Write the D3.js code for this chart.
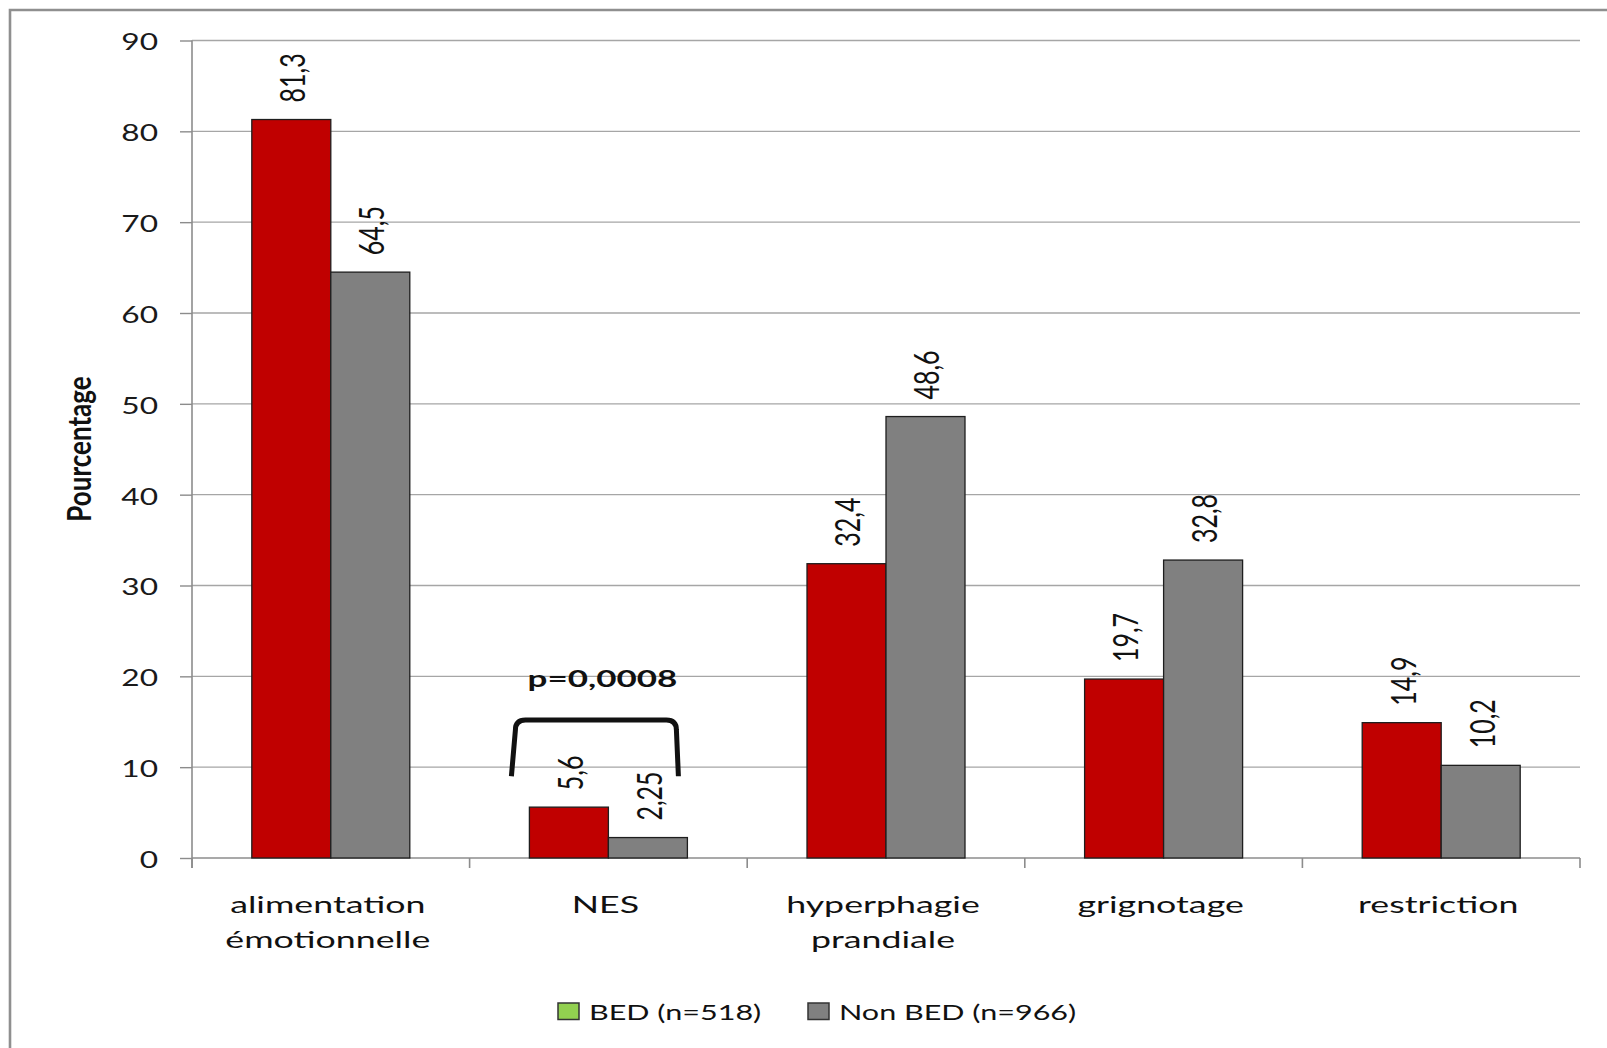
<!DOCTYPE html>
<html>
<head>
<meta charset="utf-8">
<script src="https://cdn.jsdelivr.net/npm/d3@7"></script>
<style>
  body { margin: 0; background: #fff; }
  svg { display: block; }
  text { font-family: Lato, "Open Sans", sans-serif; fill: #111; }
</style>
</head>
<body>
<svg id="chart" width="1607" height="1048"></svg>
<script>
// ---- data ----
const categories = ["alimentation émotionnelle", "NES", "hyperphagie prandiale", "grignotage", "restriction"];
const seriesNames = ["BED (n=518)", "Non BED (n=966)"];
const bedValues = [81.3, 5.6, 32.4, 19.7, 14.9];
const nonBedValues = [64.5, 2.25, 48.6, 32.8, 10.2];
const yTicks = [0, 10, 20, 30, 40, 50, 60, 70, 80, 90];
const yLabel = "Pourcentage";
const pValueText = "p=0,0008";
const pValueCategory = "NES";

// ---- styling ----
const barColors = ["#c00000", "#808080"];
const legendColors = ["#92d050", "#808080"];
const gridColor = "#a6a6a6";
const axisColor = "#8c8c8c";

const W = 1607, H = 1048;
const plot = { left: 192, right: 1580, top: 40.5, bottom: 858 };

const svg = d3.select("#chart");

// number format with a decimal comma
const frLocale = d3.formatLocale({ decimal: ",", thousands: " ", grouping: [3], currency: ["", " €"] });
const fmt = frLocale.format("~g");

// ---- scales ----
const x0 = d3.scaleBand().domain(categories).range([plot.left, plot.right]).padding(0);
const x1 = d3.scaleBand().domain([0, 1]).range([0, x0.bandwidth()]).paddingInner(0).paddingOuter(0.757);
const y = d3.scaleLinear().domain([0, 90]).range([plot.bottom, plot.top]);

// frame around the chart area
svg.append("path")
  .attr("d", `M10,${H} V10 H${W}`)
  .attr("fill", "none")
  .attr("stroke", "#8f8f8f")
  .attr("stroke-width", 2.6);

// horizontal gridlines
svg.append("g").selectAll("line")
  .data(yTicks.filter(t => t > 0))
  .join("line")
  .attr("x1", plot.left).attr("x2", plot.right)
  .attr("y1", d => y(d)).attr("y2", d => y(d))
  .attr("stroke", gridColor).attr("stroke-width", 1.4);

// y axis
const yAxis = svg.append("g")
  .attr("transform", `translate(${plot.left},0)`)
  .call(d3.axisLeft(y).tickValues(yTicks).tickSize(12).tickFormat(d3.format("d")));
yAxis.select(".domain")
  .attr("d", `M0,${plot.top} V${plot.bottom + 10}`)
  .attr("stroke", axisColor).attr("stroke-width", 1.6);
yAxis.selectAll(".tick line").attr("stroke", axisColor).attr("stroke-width", 1.4);
yAxis.selectAll(".tick text")
  .attr("x", null).attr("dy", null)
  .attr("transform", "translate(-34,0) scale(1.32,1)")
  .attr("text-anchor", "end")
  .attr("dominant-baseline", "central")
  .style("font-size", "24px")
  .style("fill", "#1a1a1a");

// x axis baseline and category boundary ticks
const xAxis = svg.append("g");
xAxis.append("line")
  .attr("x1", plot.left).attr("x2", plot.right)
  .attr("y1", y(0)).attr("y2", y(0))
  .attr("stroke", axisColor).attr("stroke-width", 1.6);
const boundaries = categories.map(c => x0(c)).concat([x0.range()[1]]);
xAxis.selectAll("line.bound")
  .data(boundaries)
  .join("line")
  .attr("class", "bound")
  .attr("x1", d => d).attr("x2", d => d)
  .attr("y1", y(0)).attr("y2", y(0) + 10)
  .attr("stroke", axisColor).attr("stroke-width", 1.6);

// category labels (wrapped on spaces)
const catLabels = xAxis.selectAll("text.cat")
  .data(categories)
  .join("text")
  .attr("class", "cat")
  .attr("text-anchor", "middle")
  .attr("transform", d => `translate(${x0(d) + x0.bandwidth() / 2 - 3},${y(0) + 55}) scale(1.49,1)`)
  .style("font-size", "24px");
catLabels.selectAll("tspan")
  .data(d => d.split(" "))
  .join("tspan")
  .attr("x", 0)
  .attr("y", (d, i) => i * 35)
  .text(d => d);

// bars
const rows = categories.map((c, i) => ({ cat: c, values: [bedValues[i], nonBedValues[i]] }));
const groups = svg.append("g").selectAll("g")
  .data(rows)
  .join("g")
  .attr("transform", d => `translate(${x0(d.cat)},0)`);

groups.selectAll("rect")
  .data(d => d.values.map((v, k) => ({ k, v })))
  .join("rect")
  .attr("x", d => x1(d.k))
  .attr("y", d => y(d.v))
  .attr("width", x1.bandwidth())
  .attr("height", d => y(0) - y(d.v))
  .attr("fill", d => barColors[d.k])
  .attr("stroke", "#1e1e1e")
  .attr("stroke-width", 1.3);

// rotated value labels above the bars
groups.selectAll("text")
  .data(d => d.values.map((v, k) => ({ k, v })))
  .join("text")
  .attr("transform", d => `translate(${x1(d.k) + x1.bandwidth() / 2},${y(d.v) - 17}) scale(1.4,1) rotate(-90)`)
  .attr("dominant-baseline", "central")
  .attr("text-anchor", "start")
  .style("font-size", "25px")
  .text(d => fmt(d.v));

// significance bracket over NES
const nesX = x0(pValueCategory);
const bl = nesX + x1(0) - 18, br = nesX + x1(1) + x1.bandwidth() - 9;
const bTop = y(15.2), bBot = y(9.0), r = 10;
svg.append("path")
  .attr("d", `M${bl},${bBot} L${bl + 4},${bTop + r} Q${bl + 4},${bTop} ${bl + 4 + r},${bTop}
              L${br - 2 - r},${bTop} Q${br - 2},${bTop} ${br - 2},${bTop + r} L${br},${bBot}`)
  .attr("fill", "none")
  .attr("stroke", "#111")
  .attr("stroke-width", 5)
  .attr("stroke-linejoin", "round");
svg.append("text")
  .attr("transform", `translate(${nesX + x0.bandwidth() / 2 - 6},${y(18.8)}) scale(1.52,1)`)
  .attr("text-anchor", "middle")
  .style("font-size", "23px")
  .style("font-weight", "bold")
  .text(pValueText);

// y axis title
svg.append("text")
  .attr("transform", `translate(78,449) scale(1.22,1) rotate(-90)`)
  .attr("text-anchor", "middle")
  .attr("dominant-baseline", "central")
  .style("font-size", "26px")
  .style("font-weight", "bold")
  .text(yLabel);

// legend
const legendX = [558, 808];
const legend = svg.append("g").selectAll("g")
  .data(seriesNames)
  .join("g")
  .attr("transform", (d, i) => `translate(${legendX[i]},1003)`);
legend.append("rect")
  .attr("width", 21).attr("height", 16.5)
  .attr("fill", (d, i) => legendColors[i])
  .attr("stroke", "#333").attr("stroke-width", 1.5);
legend.append("text")
  .attr("transform", "translate(31,17) scale(1.42,1)")
  .style("font-size", "21.5px")
  .text(d => d);
</script>
</body>
</html>
